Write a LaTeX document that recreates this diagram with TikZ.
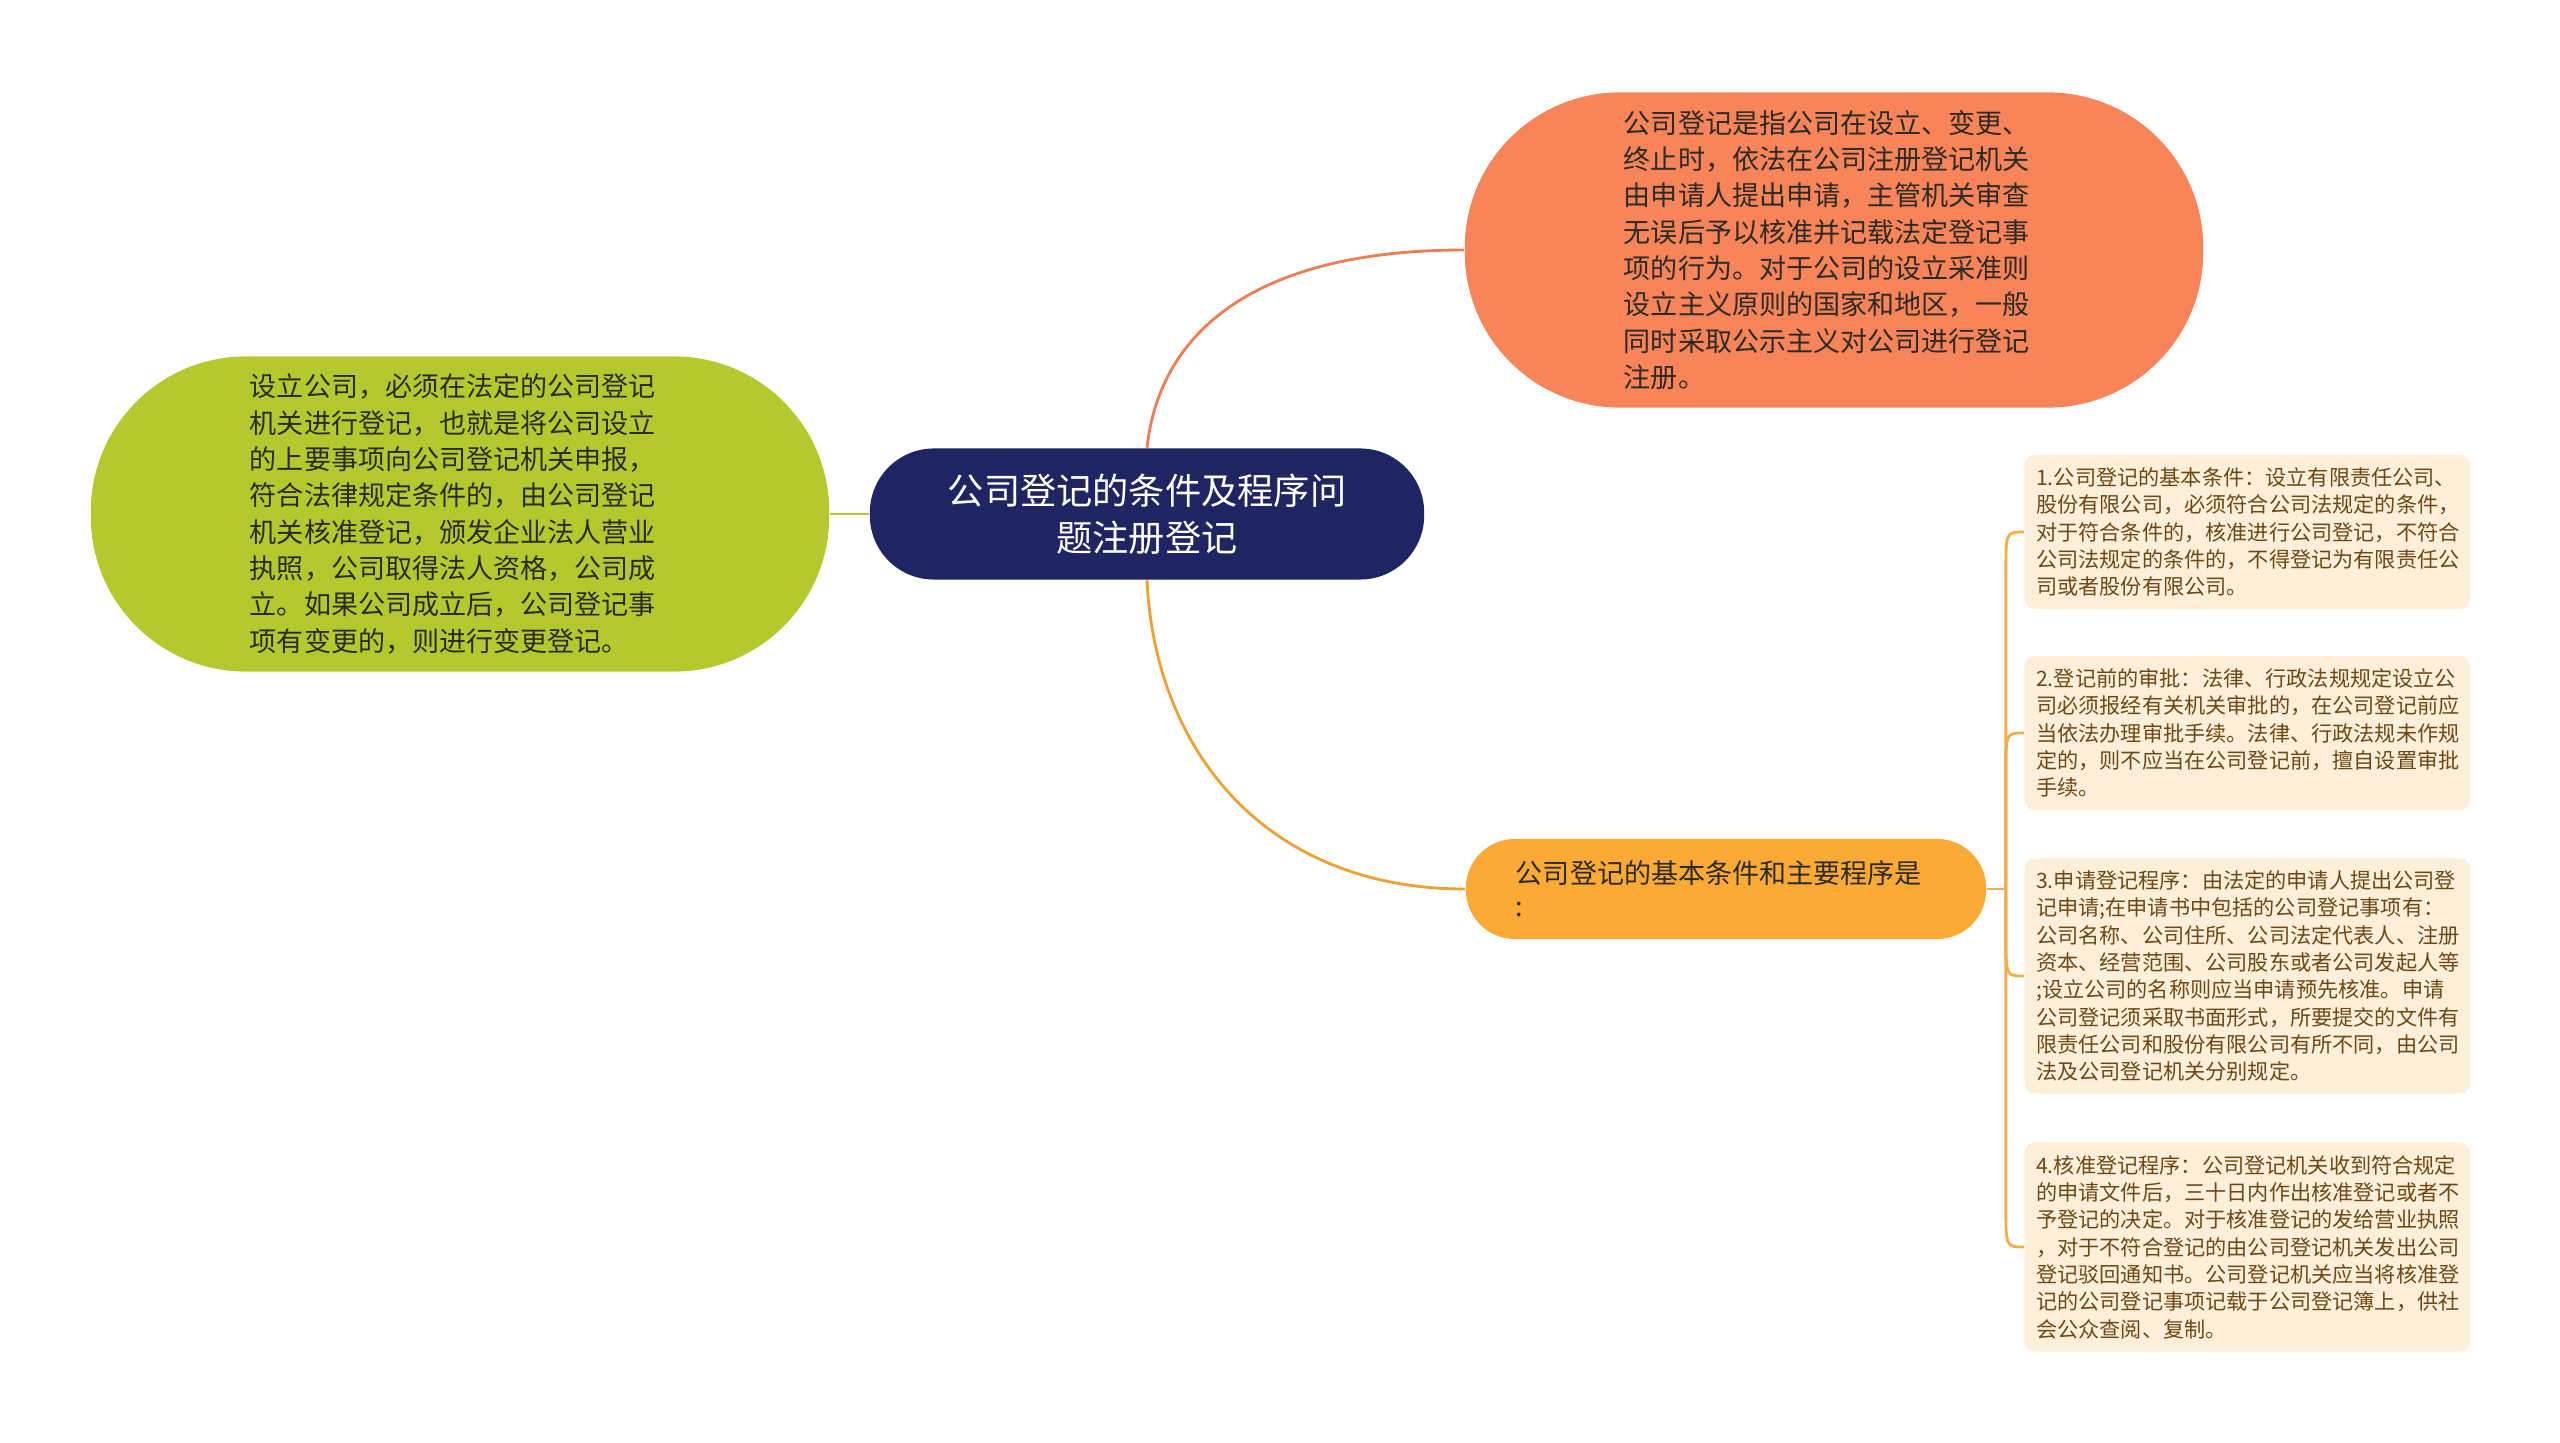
\documentclass[tikz,border=0pt]{standalone}
\usepackage{fontspec}
\newfontfamily\cjk{Noto Sans CJK SC}
\usetikzlibrary{calc}

\definecolor{navy}{HTML}{1F2562}
\definecolor{coral}{HTML}{F8845A}
\definecolor{lime}{HTML}{B5C92F}
\definecolor{amber}{HTML}{FBAA36}
\definecolor{cream}{HTML}{FDEFD9}
\definecolor{ink}{HTML}{2E2A24}
\definecolor{itemtext}{HTML}{6E4813}
\definecolor{forkcol}{HTML}{F2AE48}

\begin{document}
\begin{tikzpicture}[x=0.01cm, y=-0.01cm,
    rootnode/.style={fill=navy, text=white, rounded corners=0.64cm, minimum width=5.54cm, minimum height=1.31cm, align=center, font=\cjk\fontsize{10.3pt}{13.4pt}\selectfont},
    bignode/.style={rounded corners=1.55cm, minimum width=7.38cm, minimum height=3.15cm, text width=4.2cm, align=left, text=ink, font=\cjk\fontsize{7.7pt}{10.33pt}\selectfont},
    subnode/.style={fill=amber, rounded corners=0.49cm, minimum width=5.2cm, minimum height=1cm, text width=4.2cm, align=left, text=ink, font=\cjk\fontsize{7.7pt}{9.4pt}\selectfont},
    itembox/.style={fill=cream, rounded corners=0.1cm, anchor=west, text width=4.22cm, inner xsep=0.115cm, align=left, text=itemtext, font=\cjk\fontsize{6.02pt}{7.77pt}\selectfont},
    link/.style={line width=0.8pt}
]

\fill[white] (0,0) rectangle (2560,1443);

\node[rootnode] (root) at (1147,514) {公司登记的条件及程序问\\题注册登记};
\node[bignode, fill=coral] (meaning) at (1834,250) {公司登记是指公司在设立、变更、\\终止时，依法在公司注册登记机关\\由申请人提出申请，主管机关审查\\无误后予以核准并记载法定登记事\\项的行为。对于公司的设立采准则\\设立主义原则的国家和地区，一般\\同时采取公示主义对公司进行登记\\注册。};
\node[bignode, fill=lime] (setup) at (460,514) {设立公司，必须在法定的公司登记\\机关进行登记，也就是将公司设立\\的上要事项向公司登记机关申报，\\符合法律规定条件的，由公司登记\\机关核准登记，颁发企业法人营业\\执照，公司取得法人资格，公司成\\立。如果公司成立后，公司登记事\\项有变更的，则进行变更登记。};
\node[subnode] (basics) at (1726,889) {公司登记的基本条件和主要程序是\\:};

\draw[link, coral!95!black] (root.north) .. controls +(13,-119) and +(-205,0) .. (meaning.west);
\draw[link, lime] (root.west) -- (setup.east);
\draw[link, amber!95!black] (root.south) .. controls +(8,170) and +(-200,0) .. (basics.west);

\coordinate (fork) at ($(basics.east)+(19,0)$);
\draw[link, forkcol] (basics.east) -- (fork);

\foreach \n/\cy/\h/\s/\txt in {
    item1/532/1.54/1/{1.公司登记的基本条件：设立有限责任公司、\\股份有限公司，必须符合公司法规定的条件，\\对于符合条件的，核准进行公司登记，不符合\\公司法规定的条件的，不得登记为有限责任公\\司或者股份有限公司。},
    item2/733/1.54/1/{2.登记前的审批：法律、行政法规规定设立公\\司必须报经有关机关审批的，在公司登记前应\\当依法办理审批手续。法律、行政法规未作规\\定的，则不应当在公司登记前，擅自设置审批\\手续。},
    item3/976/2.35/-1/{3.申请登记程序：由法定的申请人提出公司登\\记申请;在申请书中包括的公司登记事项有：\\公司名称、公司住所、公司法定代表人、注册\\资本、经营范围、公司股东或者公司发起人等\\;设立公司的名称则应当申请预先核准。申请\\公司登记须采取书面形式，所要提交的文件有\\限责任公司和股份有限公司有所不同，由公司\\法及公司登记机关分别规定。},
    item4/1247/2.09/-1/{4.核准登记程序：公司登记机关收到符合规定\\的申请文件后，三十日内作出核准登记或者不\\予登记的决定。对于核准登记的发给营业执照\\，对于不符合登记的由公司登记机关发出公司\\登记驳回通知书。公司登记机关应当将核准登\\记的公司登记事项记载于公司登记簿上，供社\\会公众查阅、复制。}}
{
    \node[itembox, minimum height=\h cm] (\n) at (2024,\cy) {\txt};
    \draw[link, forkcol] (fork) -- ($(fork |- \n.west)+(0,\s*40)$) .. controls (fork |- \n.west) .. (\n.west);
}

\end{tikzpicture}
\end{document}
